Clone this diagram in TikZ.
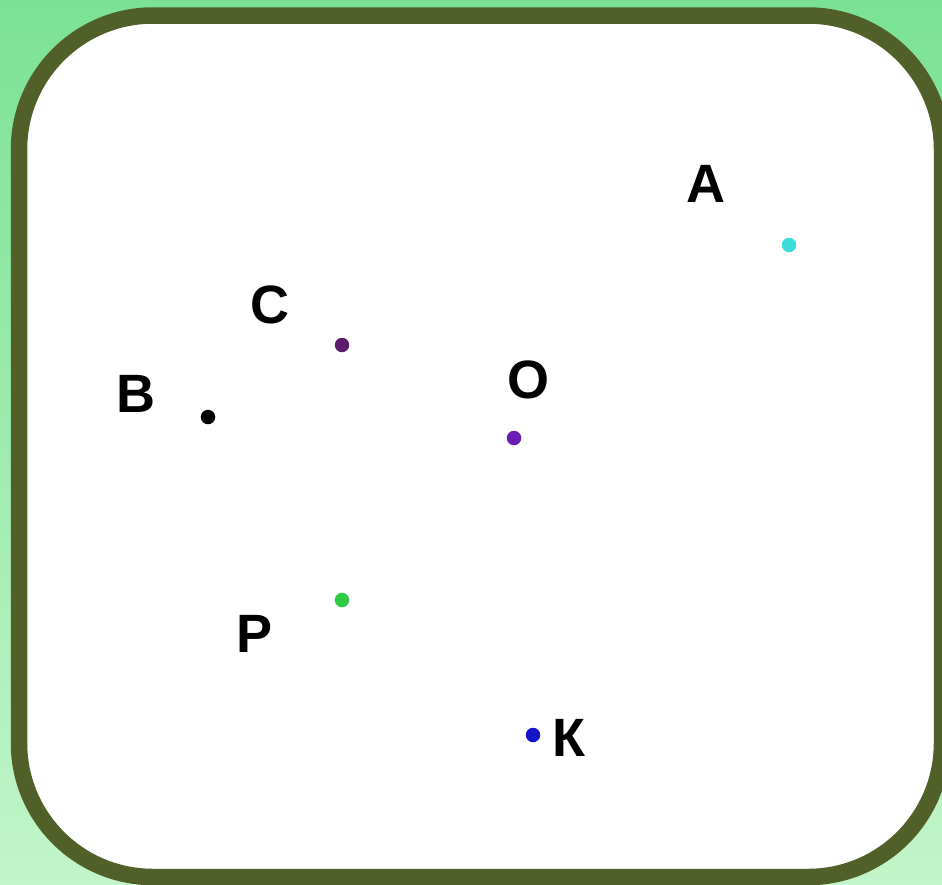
\documentclass[tikz,border=0pt]{standalone}
\usepackage{fontspec}
\setmainfont{Liberation Sans}
\begin{document}
\begin{tikzpicture}[x=1pt,y=-1pt,
  dot/.style={circle,inner sep=0pt,minimum size=14.5pt,draw=none},
  lbl/.style={inner sep=0pt,font=\fontsize{54}{54}\selectfont\bfseries,text=black}]
\definecolor{bgtop}{HTML}{7BE295}
\definecolor{bgbot}{HTML}{C2F5C9}
\definecolor{frame}{HTML}{515F29}
\definecolor{cA}{HTML}{3CDCD8}
\definecolor{cC}{HTML}{5C1E6C}
\definecolor{cO}{HTML}{6A1CB4}
\definecolor{cP}{HTML}{30CC44}
\definecolor{cK}{HTML}{1414C8}
\useasboundingbox (0,0) rectangle (942,884);
\shade[top color=bgtop,bottom color=bgbot] (0,0) rectangle (942,884);
\draw[frame,line width=16.5pt,fill=white,rounded corners=134pt] (19,15.5) rectangle (942,877);
% points
\node[dot,fill=cA] (A) at (789,245) {};
\node[dot,fill=cC] (C) at (342,345) {};
\node[dot,fill=black] (B) at (208,417) {};
\node[dot,fill=cO] (O) at (514,438) {};
\node[dot,fill=cP] (P) at (342,600) {};
\node[dot,fill=cK] (K) at (533,735) {};
% labels
\node[lbl] (lA) at (706,184) {A};
\node[lbl] (lC) at (270,305) {C};
\node[lbl] (lB) at (136,394) {B};
\node[lbl] (lO) at (528,380) {O};
\node[lbl] (lP) at (255,634) {P};
\node[lbl] (lK) at (569,738) {К};
\end{tikzpicture}
\end{document}
